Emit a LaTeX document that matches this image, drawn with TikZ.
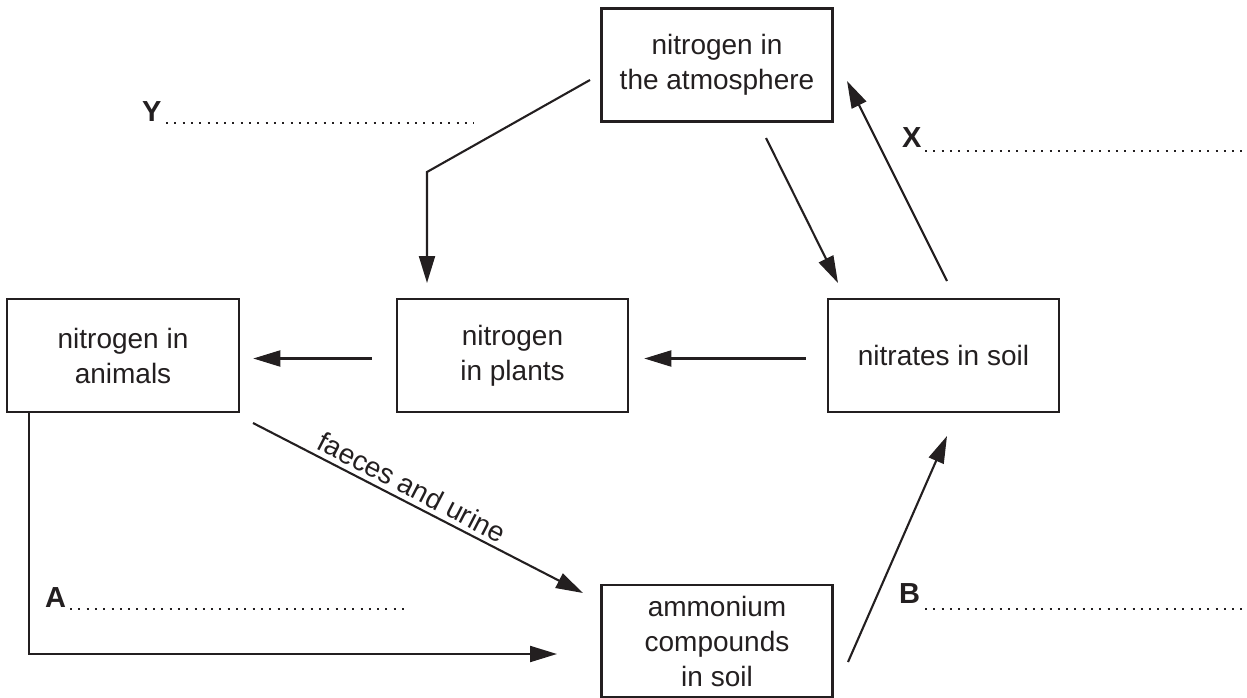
\documentclass[tikz,border=0pt]{standalone}
\usepackage{fontspec}
\setmainfont{Liberation Sans}
\usetikzlibrary{arrows.meta}
\definecolor{ink}{HTML}{231F20}
\tikzset{
  box/.style={draw=ink, line width=2.6pt, rectangle, minimum width=231pt, minimum height=113pt, inner sep=0pt, align=center, font=\fontsize{28}{35}\selectfont, text=ink},
  arr/.style={draw=ink, line width=2.1pt, -{Triangle[length=27pt,width=16pt]}},
  plain/.style={draw=ink, line width=2.1pt},
  lab/.style={inner sep=0pt, anchor=base west, font=\fontsize{29}{35}\selectfont\bfseries, text=ink},
  ans/.style={draw=ink, line width=2pt, dash pattern=on 2pt off 6.3pt},
  flowtext/.style={inner sep=0pt, font=\fontsize{28}{35}\selectfont, text=ink}
}
\begin{document}
\begin{tikzpicture}[x=1pt,y=-1pt]
\useasboundingbox (0,0) rectangle (1247,698);
% boxes
\node[box] (atm) at (717,65) {nitrogen in\\the atmosphere};
\node[box, minimum width=232pt] (animals) at (123,355.5) {nitrogen in\\animals};
\node[box] (plants) at (512.5,355.5) {nitrogen\\in plants};
\node[box, minimum width=231pt] (nitrates) at (943.5,355.5) {nitrates in soil};
\node[box, minimum height=112pt] (amm) at (717,641) {ammonium\\compounds\\in soil};
% connector end points
\coordinate (yStart) at (590,80);
\coordinate (yBend) at (427,172);
\coordinate (yEnd) at (427,283);
\coordinate (anStart) at (766,138);
\coordinate (anEnd) at (838,283);
\coordinate (xStart) at (947,281);
\coordinate (xEnd) at (847,81);
\coordinate (bStart) at (848,662);
\coordinate (bEnd) at (947,436);
\coordinate (fStart) at (253,423);
\coordinate (fEnd) at (583,593);
\coordinate (aTop) at (29,412);
\coordinate (aCorner) at (29,654);
\coordinate (aEnd) at (557,654);
% connectors
\draw[arr] (yStart) -- (yBend) -- (yEnd);
\draw[arr] (anStart) -- (anEnd);
\draw[arr] (xStart) -- (xEnd);
\draw[arr] (bStart) -- (bEnd);
\draw[arr] (fStart) -- (fEnd);
\draw[arr] (aTop) -- (aCorner) -- (aEnd);
\draw[arr, shorten <=21pt, shorten >=15pt] ([yshift=-3pt]nitrates.west) -- ([yshift=-3pt]plants.east);
\draw[arr, shorten <=24pt, shorten >=13pt] ([yshift=-3pt]plants.west) -- ([yshift=-3pt]animals.east);
% connector label
\node[flowtext, rotate=-27.3] (ftext) at (412,487) {faeces and urine};
% answer labels
\node[lab] (Y) at (142,122) {Y};
\node[lab] (X) at (902,147) {X};
\node[lab] (A) at (45,607) {A};
\node[lab] (B) at (899,603) {B};
\draw[ans] (166,123) -- (474,123);
\draw[ans] (925,151) -- (1247,151);
\draw[ans] (70,609) -- (410,609);
\draw[ans] (925,609) -- (1247,609);
\end{tikzpicture}
\end{document}
